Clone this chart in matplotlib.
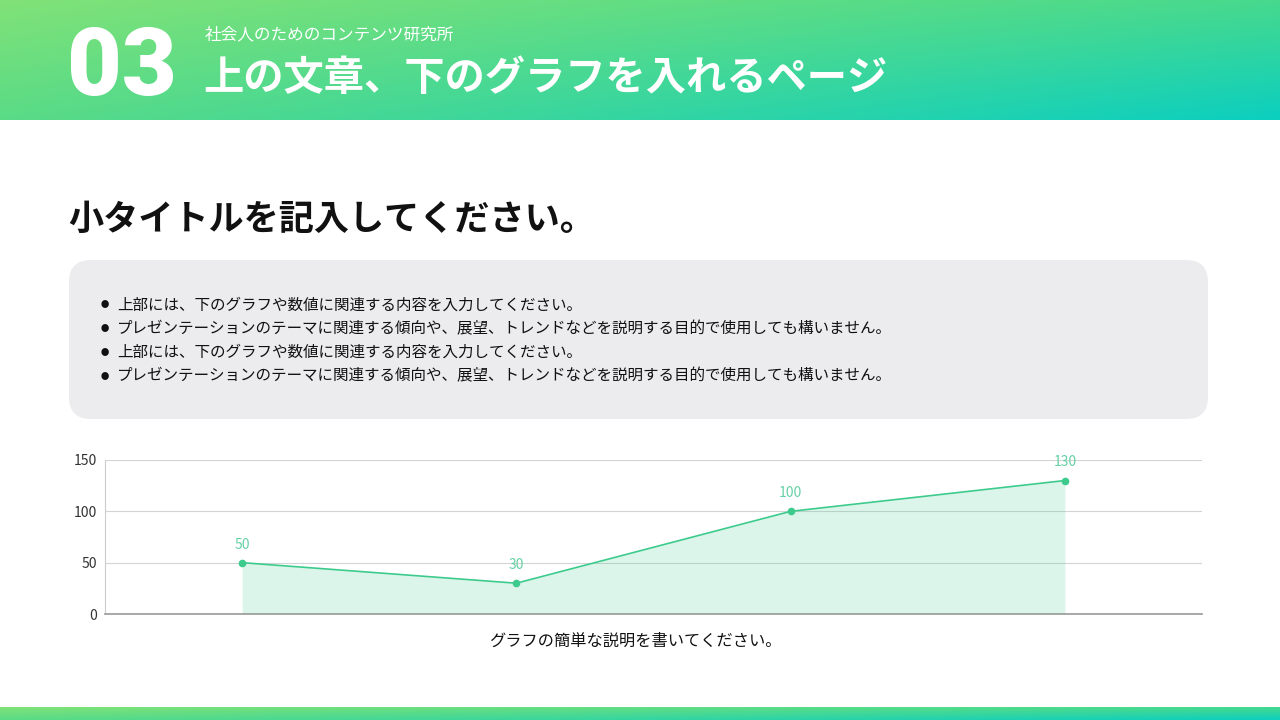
import numpy as np
import matplotlib.pyplot as plt
from matplotlib.patches import FancyBboxPatch

plt.rcParams['font.family'] = ['Noto Sans CJK JP', 'DejaVu Sans']

# Chart data
categories = ["A", "B", "C", "D"]
values = [50, 30, 100, 130]
y_ticks = [0, 50, 100, 150]

page_no = "03"
org_name = "社会人のためのコンテンツ研究所"
page_title = "上の文章、下のグラフを入れるページ"
sub_title = "小タイトルを記入してください。"
bullets = [
    "上部には、下のグラフや数値に関連する内容を入力してください。",
    "プレゼンテーションのテーマに関連する傾向や、展望、トレンドなどを説明する目的で使用しても構いません。",
    "上部には、下のグラフや数値に関連する内容を入力してください。",
    "プレゼンテーションのテーマに関連する傾向や、展望、トレンドなどを説明する目的で使用しても構いません。",
]
caption = "グラフの簡単な説明を書いてください。"

W, H = 1280, 720
fig = plt.figure(figsize=(12.8, 7.2), dpi=100)

# background layer in pixel coordinates
bg = fig.add_axes([0, 0, 1, 1])
bg.set_xlim(0, W)
bg.set_ylim(H, 0)
bg.axis("off")


def gradient(x0, x1, y0, y1):
    tl = np.array([0x80, 0xe2, 0x78]) / 255
    tr = np.array([0x46, 0xd9, 0x8e]) / 255
    bl = np.array([0x5a, 0xdb, 0x86]) / 255
    br = np.array([0x0c, 0xcf, 0xbf]) / 255
    u = np.linspace(0, 1, 256)[None, :, None]
    v = np.linspace(0, 1, 32)[:, None, None]
    img = (1 - u) * (1 - v) * tl + u * (1 - v) * tr + (1 - u) * v * bl + u * v * br
    bg.imshow(img, extent=(x0, x1, y1, y0), aspect="auto", interpolation="bilinear")


gradient(0, W, 0, 120)
gradient(0, W, 707, 720)
bg.set_xlim(0, W)
bg.set_ylim(H, 0)

bg.text(67, 69, page_no, color="white", fontsize=68, fontweight="black",
        family=["Roboto", "DejaVu Sans"], va="center", ha="left")
bg.text(205, 35, org_name, color="white", fontsize=12, va="center", ha="left")
bg.text(203, 79, page_title, color="white", fontsize=29, fontweight="bold",
        va="center", ha="left")

bg.text(68, 219, sub_title, color="#111111", fontsize=25.3, fontweight="bold",
        va="center", ha="left")

box = FancyBboxPatch((69, 260), 1139, 159, boxstyle="round,pad=0,rounding_size=22",
                     facecolor="#ecebee", edgecolor="none")
bg.add_patch(box)
for i, line in enumerate(bullets):
    y = 305 + i * 23.7
    bg.text(105, y, "●", color="#111111", fontsize=6, va="center", ha="center")
    bg.text(117, y, line, color="#111111", fontsize=11.2, va="center", ha="left")

bg.text(635, 641, caption, color="#111111", fontsize=11.7, va="center", ha="center")

# chart
ax = fig.add_axes([105 / W, 1 - 614 / H, 1097 / W, 154 / H])
x = np.arange(len(categories))
ax.fill_between(x, values, color="#3ccb8c", alpha=0.18, linewidth=0)
ax.plot(x, values, color="#3ccb8c", linewidth=1.2, marker="o", markersize=4.5)
for xi, v in zip(x, values):
    ax.annotate(str(v), (xi, v), xytext=(0, 8), textcoords="offset points",
                ha="center", va="bottom", color="#66d0a4", fontsize=10)
ax.set_xlim(-0.5, len(categories) - 0.5)
ax.set_ylim(0, 150)
ax.set_yticks(y_ticks)
ax.set_xticks([])
ax.tick_params(axis="y", length=0, pad=6, labelsize=10, labelcolor="#333333")
ax.grid(axis="y", color="#d4d4d8", linewidth=0.8)
ax.set_axisbelow(True)
for s in ["top", "right"]:
    ax.spines[s].set_visible(False)
ax.spines["left"].set_color("#cccccc")
ax.spines["bottom"].set_color("#999999")
ax.spines["bottom"].set_linewidth(1.2)
ax.patch.set_alpha(0)

fig.savefig("out.png", dpi=100)
